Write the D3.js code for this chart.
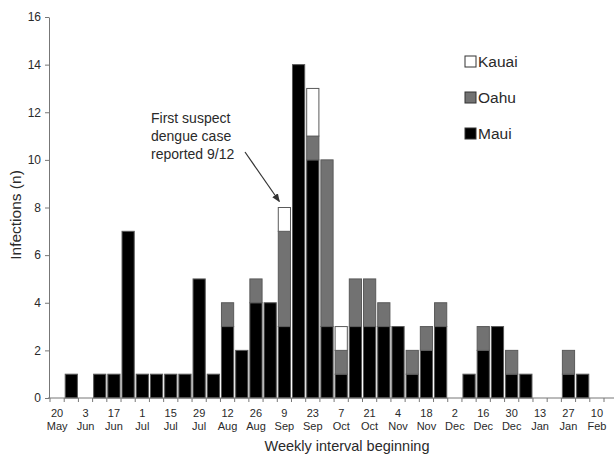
<!DOCTYPE html>
<html lang="en">

<head>
    <meta charset="UTF-8">
    <title>Dengue infections by week</title>
    <script type='text/javascript' src='https://d3js.org/d3.v7.min.js'></script>
    <style>
        body { margin: 0; background: #fff; }
        text { font-family: "Liberation Sans", Arial, sans-serif; fill: #2a2a2a; }
    </style>
</head>

<body>
    <script>
        // weekly intervals (start date of each week)
        const weeks = ["20 May", "27 May", "3 Jun", "10 Jun", "17 Jun", "24 Jun", "1 Jul", "8 Jul", "15 Jul",
            "22 Jul", "29 Jul", "5 Aug", "12 Aug", "19 Aug", "26 Aug", "2 Sep", "9 Sep", "16 Sep", "23 Sep",
            "30 Sep", "7 Oct", "14 Oct", "21 Oct", "28 Oct", "4 Nov", "11 Nov", "18 Nov", "25 Nov", "2 Dec",
            "9 Dec", "16 Dec", "23 Dec", "30 Dec", "6 Jan", "13 Jan", "20 Jan", "27 Jan", "3 Feb", "10 Feb"];

        // infections per island
        const maui = [0, 1, 0, 1, 1, 7, 1, 1, 1, 1, 5, 1, 3, 2, 4, 4, 3, 14, 10, 3, 1, 3, 3, 3, 3, 1, 2, 3, 0,
            1, 2, 3, 1, 1, 0, 0, 1, 1, 0];
        const oahu = [0, 0, 0, 0, 0, 0, 0, 0, 0, 0, 0, 0, 1, 0, 1, 0, 4, 0, 1, 7, 1, 2, 2, 1, 0, 1, 1, 1, 0,
            0, 1, 0, 1, 0, 0, 0, 1, 0, 0];
        const kauai = [0, 0, 0, 0, 0, 0, 0, 0, 0, 0, 0, 0, 0, 0, 0, 0, 1, 0, 2, 0, 1, 0, 0, 0, 0, 0, 0, 0, 0,
            0, 0, 0, 0, 0, 0, 0, 0, 0, 0];

        const islands = ["Maui", "Oahu", "Kauai"];
        const colors = { Maui: "#000000", Oahu: "#727272", Kauai: "#ffffff" };
        const yTicks = [0, 2, 4, 6, 8, 10, 12, 14, 16];

        const W = 614, H = 454;
        const svg = d3.select("body").append("svg")
            .attr("width", W).attr("height", H);

        // scales
        const x = d3.scaleBand().domain(weeks).range([50, 604]).padding(0);
        const y = d3.scaleLinear().domain([0, 16]).range([398, 17]);

        // stacked table built from the arrays
        const table = weeks.map(function (w, i) {
            return { week: w, Maui: maui[i], Oahu: oahu[i], Kauai: kauai[i] };
        });
        const series = d3.stack().keys(islands)(table);

        // bars
        svg.append("g").selectAll("g").data(series).enter().append("g")
            .attr("fill", function (d) { return colors[d.key]; })
            .selectAll("rect")
            .data(function (d) { return d.filter(function (p) { return p[1] > p[0]; }); })
            .enter().append("rect")
            .attr("x", function (d) { return x(d.data.week) + 1; })
            .attr("width", x.bandwidth() - 2)
            .attr("y", function (d) { return y(d[1]); })
            .attr("height", function (d) { return y(d[0]) - y(d[1]); })
            .attr("stroke", "#5a5a5a")
            .attr("stroke-width", 1);

        // x axis: line, boundary ticks and two-line labels
        const xa = svg.append("g");
        xa.append("line")
            .attr("x1", 48).attr("x2", 614).attr("y1", y(0)).attr("y2", y(0))
            .attr("stroke", "#777");
        const bounds = weeks.map(function (w) { return x(w); }).concat([x.range()[1]]);
        xa.selectAll(".xt").data(bounds).enter().append("line")
            .attr("class", "xt")
            .attr("x1", function (d) { return d; }).attr("x2", function (d) { return d; })
            .attr("y1", y(0)).attr("y2", y(0) + 4)
            .attr("stroke", "#777");
        const labelled = weeks.filter(function (w, i) { return i % 2 === 0; });
        const lab = xa.selectAll(".xl").data(labelled).enter().append("text")
            .attr("class", "xl")
            .attr("text-anchor", "middle")
            .attr("font-size", 11)
            .attr("transform", function (d) { return "translate(" + (x(d) + x.bandwidth() / 2) + ",0)"; });
        lab.append("tspan").attr("x", 0).attr("y", 417)
            .text(function (d) { return d.split(" ")[0]; });
        lab.append("tspan").attr("x", 0).attr("y", 430)
            .text(function (d) { return d.split(" ")[1]; });

        // y axis
        const ya = svg.append("g")
            .attr("transform", "translate(49,0)")
            .call(d3.axisLeft(y).tickValues(yTicks).tickSize(4).tickSizeOuter(0).tickPadding(4));
        ya.select(".domain").attr("stroke", "#777");
        ya.selectAll(".tick line").attr("stroke", "#777");
        ya.selectAll(".tick text")
            .attr("font-size", 12)
            .attr("font-family", "Liberation Sans, Arial, sans-serif")
            .attr("fill", "#2a2a2a");

        // axis titles
        svg.append("text")
            .attr("x", 347).attr("y", 451)
            .attr("text-anchor", "middle")
            .attr("font-size", 14.5)
            .text("Weekly interval beginning");
        svg.append("text")
            .attr("transform", "translate(21,215) rotate(-90)")
            .attr("text-anchor", "middle")
            .attr("font-size", 15.5)
            .text("Infections (n)");

        // legend (Kauai on top)
        const legend = svg.append("g").selectAll("g")
            .data(islands.slice().reverse()).enter().append("g")
            .attr("transform", function (d, i) { return "translate(465," + (56 + i * 36) + ")"; });
        legend.append("rect")
            .attr("width", 11).attr("height", 11)
            .attr("fill", function (d) { return colors[d]; })
            .attr("stroke", "#333").attr("stroke-width", 1);
        legend.append("text")
            .attr("x", 13).attr("y", 11)
            .attr("font-size", 15.5)
            .text(function (d) { return d; });

        // annotation with arrow
        const defs = svg.append("defs");
        defs.append("marker")
            .attr("id", "arrow").attr("viewBox", "0 0 10 10")
            .attr("refX", 9).attr("refY", 5)
            .attr("markerWidth", 7).attr("markerHeight", 7)
            .attr("orient", "auto")
            .append("path").attr("d", "M0,1 L10,5 L0,9 Z").attr("fill", "#333");
        const note = ["First suspect", "dengue case", "reported 9/12"];
        svg.append("g").selectAll("text").data(note).enter().append("text")
            .attr("x", 151).attr("y", function (d, i) { return 123 + i * 18; })
            .attr("font-size", 14)
            .text(function (d) { return d; });
        const target = "9 Sep";
        svg.append("line")
            .attr("x1", 245).attr("y1", 152)
            .attr("x2", x(target) + x.bandwidth() / 2 - 5)
            .attr("y2", y(8) - 6)
            .attr("stroke", "#333").attr("stroke-width", 1.2)
            .attr("marker-end", "url(#arrow)");
    </script>
</body>

</html>
